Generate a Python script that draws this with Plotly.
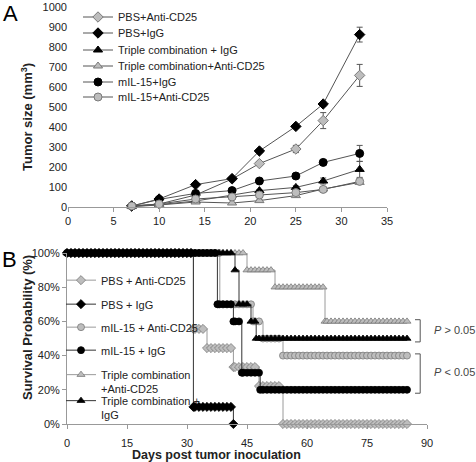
import plotly.graph_objects as go
import numpy as np

W, H = 476, 462
FONT = "Liberation Sans, Arial, sans-serif"

# ---------------- Panel A: tumor size ----------------
days_A = [7, 10, 14, 18, 21, 25, 28, 32]
pbs_anti = [5, 15, 60, 140, 217, 290, 432, 658]
pbs_anti_err = [1, 2, 4, 5, 8, 18, 40, 55]
pbs_igg = [5, 40, 112, 142, 280, 403, 515, 862]
pbs_igg_err = [1, 3, 5, 5, 8, 10, 12, 37]
tri_igg = [3, 12, 30, 60, 82, 98, 130, 188]
tri_igg_err = [1, 2, 3, 4, 5, 8, 15, 40]
tri_anti = [2, 10, 25, 20, 32, 57, 90, 123]
tri_anti_err = [1, 1, 3, 3, 4, 5, 8, 10]
mil_igg = [5, 38, 68, 82, 130, 155, 223, 268]
mil_igg_err = [1, 3, 4, 5, 6, 8, 12, 40]
mil_anti = [5, 15, 40, 50, 60, 72, 88, 128]
mil_anti_err = [1, 2, 3, 4, 5, 6, 8, 10]

names_A = ["PBS+Anti-CD25", "PBS+IgG", "Triple combination + IgG",
           "Triple combination+Anti-CD25", "mIL-15+IgG", "mIL-15+Anti-CD25"]

# ---------------- Panel B: survival (step change days / levels) ----------------
pbs_anti_t = [0, 31.6, 35, 41.6, 48, 54]
pbs_anti_s = [100, 55.6, 44.4, 33.3, 22.2, 0]
pbs_anti_end = 85
pbs_igg_t = [0, 31.6, 41.6]
pbs_igg_s = [100, 10, 0]
pbs_igg_end = 41.6
mil_anti_t = [0, 38.2, 46.5, 49, 54]
mil_anti_s = [100, 70, 60, 50, 40]
mil_anti_end = 85
mil_igg_t = [0, 37.6, 41.6, 43.7, 48.3]
mil_igg_s = [100, 70, 60, 30, 20]
mil_igg_end = 85
tri_anti_t = [0, 45, 52, 64.5]
tri_anti_s = [100, 90, 80, 60]
tri_anti_end = 85
tri_igg_t = [0, 42, 43, 46, 47.3]
tri_igg_s = [100, 90, 70, 60, 50]
tri_igg_end = 85

names_B = ["PBS + Anti-CD25", "PBS + IgG", "mIL-15 + Anti-CD25", "mIL-15 + IgG",
           "Triple combination<br>+Anti-CD25", "Triple combination +<br>IgG"]
pvals = ["<i>P</i> &gt; 0.05", "<i>P</i> &lt; 0.05"]

GRAY_FILL = "#bdbdbd"
GRAY_LINE = "#7a7a7a"
BLACK = "#000000"


def fx(px):
    return px / W


def fy(py):
    return 1 - py / H


def km_points(t, s, end):
    xs = sorted(set(list(range(0, int(end) + 1)) + list(t) + [end]))
    ys = [s[int(np.searchsorted(t, x, side="right")) - 1] for x in xs]
    return xs, ys


fig = go.Figure()

# Panel A traces
styleA = [
    ("diamond", GRAY_FILL, GRAY_LINE, pbs_anti, pbs_anti_err),
    ("diamond", BLACK, BLACK, pbs_igg, pbs_igg_err),
    ("triangle-up", BLACK, BLACK, tri_igg, tri_igg_err),
    ("triangle-up", GRAY_FILL, GRAY_LINE, tri_anti, tri_anti_err),
    ("circle", BLACK, BLACK, mil_igg, mil_igg_err),
    ("circle", GRAY_FILL, GRAY_LINE, mil_anti, mil_anti_err),
]
legA_rows = [17, 33, 50, 66, 82, 97]
for i, (sym, fill, edge, vals, err) in enumerate(styleA):
    fig.add_trace(go.Scatter(
        x=days_A, y=vals, name=names_A[i], mode="lines+markers",
        line=dict(color="#555555", width=1),
        marker=dict(symbol=sym, size=8, color=fill, line=dict(color=edge, width=1)),
        error_y=dict(type="data", array=err, visible=True, color="#555555", thickness=1, width=3),
        xaxis="x", yaxis="y", legend="legend" if i == 0 else f"legend{i + 1}",
        cliponaxis=False,
    ))

# Panel B traces
styleB = [
    ("diamond", GRAY_FILL, GRAY_LINE, "#9a9a9a", pbs_anti_t, pbs_anti_s, pbs_anti_end),
    ("diamond", BLACK, BLACK, "#333333", pbs_igg_t, pbs_igg_s, pbs_igg_end),
    ("circle", GRAY_FILL, GRAY_LINE, "#9a9a9a", mil_anti_t, mil_anti_s, mil_anti_end),
    ("circle", BLACK, BLACK, "#333333", mil_igg_t, mil_igg_s, mil_igg_end),
    ("triangle-up", GRAY_FILL, GRAY_LINE, "#9a9a9a", tri_anti_t, tri_anti_s, tri_anti_end),
    ("triangle-up", BLACK, BLACK, "#333333", tri_igg_t, tri_igg_s, tri_igg_end),
]
legB_rows = [281, 305, 328, 351, 361, 387]
draw_order = [0, 2, 4, 1, 3, 5]
for i in draw_order:
    sym, fill, edge, lc, t, s, end = styleB[i]
    xs, ys = km_points(t, s, end)
    fig.add_trace(go.Scatter(
        x=xs, y=ys, name=names_B[i], mode="lines+markers",
        line=dict(color=lc, width=1, shape="hv"),
        marker=dict(symbol=sym, size=7, color=fill, line=dict(color=edge, width=0.8)),
        xaxis="x2", yaxis="y2", legend=f"legend{7 + i}", cliponaxis=False,
    ))

layout_legends = {}
for i, row in enumerate(legA_rows):
    key = "legend" if i == 0 else f"legend{i + 1}"
    layout_legends[key] = dict(
        x=fx(78), y=fy(row), xanchor="left", yanchor="middle",
        bgcolor="rgba(0,0,0,0)", borderwidth=0, itemwidth=30,
        font=dict(family=FONT, size=11, color="#222222"),
    )
for i, row in enumerate(legB_rows):
    key = f"legend{7 + i}"
    layout_legends[key] = dict(
        x=fx(61), y=fy(row), xanchor="left", yanchor="middle" if i < 4 else "top",
        valign="top",
        bgcolor="rgba(0,0,0,0)", borderwidth=0, itemwidth=30,
        font=dict(family=FONT, size=11, color="#222222"),
    )

axis_common = dict(showgrid=False, zeroline=False, automargin=False,
                   tickfont=dict(family=FONT, size=11, color="#222222"))

fig.update_layout(
    template="none",
    width=W, height=H, margin=dict(l=0, r=0, t=0, b=0, autoexpand=False),
    paper_bgcolor="white", plot_bgcolor="white", showlegend=True,
    font=dict(family=FONT, size=11, color="#222222"),
    xaxis=dict(domain=[fx(68), fx(387)], range=[0, 35], tickvals=[0, 5, 10, 15, 20, 25, 30, 35],
               showline=True, linecolor="#999999", linewidth=1, ticks="outside", ticklen=4,
               tickcolor="#999999", anchor="y", **axis_common),
    yaxis=dict(domain=[fy(207), fy(7)], range=[0, 1000], tickvals=list(range(0, 1001, 100)),
               showline=False, ticks="", anchor="x", **axis_common),
    xaxis2=dict(domain=[fx(67), fx(427)], range=[0, 90], tickvals=[0, 15, 30, 45, 60, 75, 90],
                showline=True, linecolor="#999999", linewidth=1, ticks="outside", ticklen=4,
                tickcolor="#999999", anchor="y2", ticklabelstandoff=5, **axis_common),
    yaxis2=dict(domain=[fy(424), fy(253)], range=[0, 100], tickvals=[0, 20, 40, 60, 80, 100],
                ticktext=["0%", "20%", "40%", "60%", "80%", "100%"],
                showline=True, linecolor="#999999", linewidth=1, ticks="outside", ticklen=4,
                tickcolor="#999999", anchor="x2", **axis_common),
    **layout_legends,
)

ann = [
    dict(text="A", x=fx(10), y=fy(14), font=dict(size=22, family=FONT, color="#000")),
    dict(text="B", x=fx(9), y=fy(259), font=dict(size=22, family=FONT, color="#000")),
    dict(text="<b>Tumor size (mm<sup>3</sup>)</b>", x=fx(27), y=fy(117), textangle=-90,
         font=dict(size=13, family=FONT, color="#222")),
    dict(text="<b>Survival Probability (%)</b>", x=fx(27), y=fy(328), textangle=-90,
         font=dict(size=13, family=FONT, color="#222")),
    dict(text="<b>Days post tumor inoculation</b>", x=fx(216), y=fy(455),
         font=dict(size=12.5, family=FONT, color="#222")),
    dict(text=pvals[0], x=fx(432), y=fy(330), xanchor="left",
         font=dict(size=11, family=FONT, color="#444")),
    dict(text=pvals[1], x=fx(432), y=fy(372), xanchor="left",
         font=dict(size=11, family=FONT, color="#444")),
]
for a in ann:
    a.update(xref="paper", yref="paper", showarrow=False)
    a.setdefault("xanchor", "center")
    a["yanchor"] = "middle"
fig.update_layout(annotations=ann)

# significance brackets (data coordinates of panel B)
brackets = [(61, 48), (41, 18)]
for top, bot in brackets:
    fig.add_shape(type="path", xref="x2", yref="y2",
                  path=f"M 87,{top} L 88.3,{top} L 88.3,{bot} L 87,{bot}",
                  line=dict(color="#555555", width=1))

fig.write_html("out.html", config={"displayModeBar": False},
               post_script="document.body.style.margin='0px';document.body.style.overflow='hidden';")
